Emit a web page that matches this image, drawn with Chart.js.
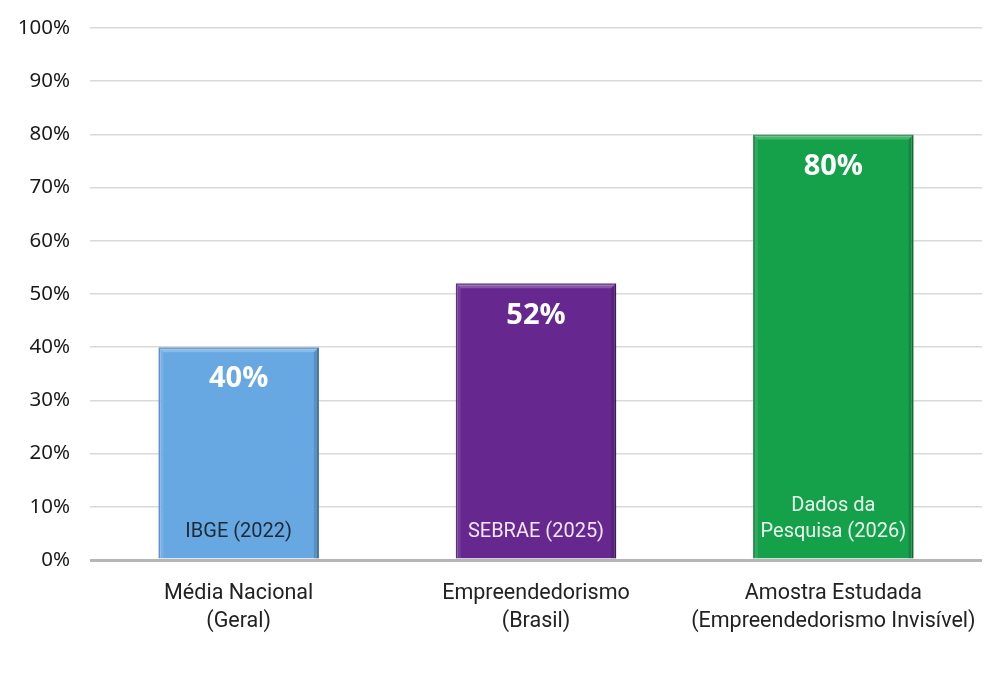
<!DOCTYPE html>
<html>
<head>
<meta charset="utf-8">
<script src="https://cdn.jsdelivr.net/npm/chart.js@4/dist/chart.umd.min.js"></script>
<style>
  html, body { margin: 0; padding: 0; background: #fff; }
  #wrap { width: 1000px; height: 675px; }
</style>
</head>
<body>
<div id="wrap"><canvas id="myBars" width="1000" height="675"></canvas></div>
<script>
var categories = [["Média Nacional", "(Geral)"], ["Empreendedorismo", "(Brasil)"], ["Amostra Estudada", "(Empreendedorismo Invisível)"]];
var values = [40, 52, 80];
var sources = [["IBGE (2022)"], ["SEBRAE (2025)"], ["Dados da", "Pesquisa (2026)"]];
var barColors = ["#67a8e2", "#66288f", "#15a04a"];
var edgeColors = ["#4a86c0", "#4d1b70", "#0e7f38"];
var sourceColors = ["#1e2a36", "#f1e6fa", "#e8f8ee"];

// little bevel on each bar, like the office-style chart
var bevel = {
    id: 'bevel',
    afterDatasetsDraw: function (chart) {
        var ctx = chart.ctx;
        var meta = chart.getDatasetMeta(0);
        var b = 5;
        ctx.save();
        meta.data.forEach(function (bar) {
            var l = bar.x - bar.width / 2, r = bar.x + bar.width / 2;
            var t = bar.y, bt = bar.base;
            // top
            ctx.fillStyle = 'rgba(255,255,255,0.22)';
            ctx.beginPath();
            ctx.moveTo(l, t); ctx.lineTo(r, t); ctx.lineTo(r - b, t + b); ctx.lineTo(l + b, t + b);
            ctx.closePath(); ctx.fill();
            // left
            ctx.fillStyle = 'rgba(255,255,255,0.10)';
            ctx.beginPath();
            ctx.moveTo(l, t); ctx.lineTo(l + b, t + b); ctx.lineTo(l + b, bt); ctx.lineTo(l, bt);
            ctx.closePath(); ctx.fill();
            // right
            ctx.fillStyle = 'rgba(0,0,0,0.14)';
            ctx.beginPath();
            ctx.moveTo(r, t); ctx.lineTo(r - b, t + b); ctx.lineTo(r - b, bt); ctx.lineTo(r, bt);
            ctx.closePath(); ctx.fill();
        });
        ctx.restore();
    }
};

// draws the big % on top and the source text at the bottom of each bar
var barLabels = {
    id: 'barLabels',
    afterDatasetsDraw: function (chart) {
        var ctx = chart.ctx;
        var meta = chart.getDatasetMeta(0);
        ctx.save();
        ctx.textAlign = 'center';
        ctx.textBaseline = 'middle';
        meta.data.forEach(function (bar, i) {
            ctx.fillStyle = '#ffffff';
            ctx.font = 'bold 29px "Open Sans", sans-serif';
            ctx.fillText(values[i] + '%', bar.x, bar.y + 32);

            ctx.font = '20px Roboto, sans-serif';
            ctx.fillStyle = sourceColors[i];
            var lines = sources[i];
            var base = bar.base - 27 - (lines.length - 1) * 26;
            for (var k = 0; k < lines.length; k++) {
                ctx.fillText(lines[k], bar.x, base + k * 26);
            }
        });
        ctx.restore();
    }
};

var ctx = document.getElementById("myBars");
var myBarChart = new Chart(ctx, {
    type: 'bar',
    data: {
        labels: categories,
        datasets: [{
            data: values,
            backgroundColor: barColors,
            borderColor: edgeColors,
            borderWidth: 2,
            borderSkipped: 'bottom',
            barPercentage: 0.9,
            categoryPercentage: 0.6
        }]
    },
    options: {
        responsive: false,
        animation: false,
        layout: { padding: { left: 10, right: 18, top: 28, bottom: 0 } },
        plugins: {
            legend: { display: false },
            tooltip: { enabled: false }
        },
        scales: {
            y: {
                min: 0,
                max: 100,
                afterFit: function (scale) {
                    scale.width = 80;
                    scale.paddingTop = 0;
                    scale.paddingBottom = 0;
                },
                ticks: {
                    stepSize: 10,
                    padding: 20,
                    color: '#1a1a1a',
                    font: { family: '"Noto Sans", sans-serif', size: 20.5 },
                    callback: function (v) { return v + '%'; }
                },
                grid: {
                    drawTicks: false,
                    color: function (c) { return c.tick.value === 0 ? '#b5b5b5' : '#d9d9d9'; },
                    lineWidth: function (c) { return c.tick.value === 0 ? 3 : 1.5; }
                },
                border: { display: false }
            },
            x: {
                afterFit: function (scale) { scale.height = 115; },
                ticks: {
                    padding: 20,
                    color: '#222',
                    font: { family: 'Roboto, sans-serif', size: 21.5, lineHeight: 1.3 }
                },
                grid: { display: false, drawTicks: false },
                border: { display: false }
            }
        }
    },
    plugins: [bevel, barLabels]
});
</script>
</body>
</html>
